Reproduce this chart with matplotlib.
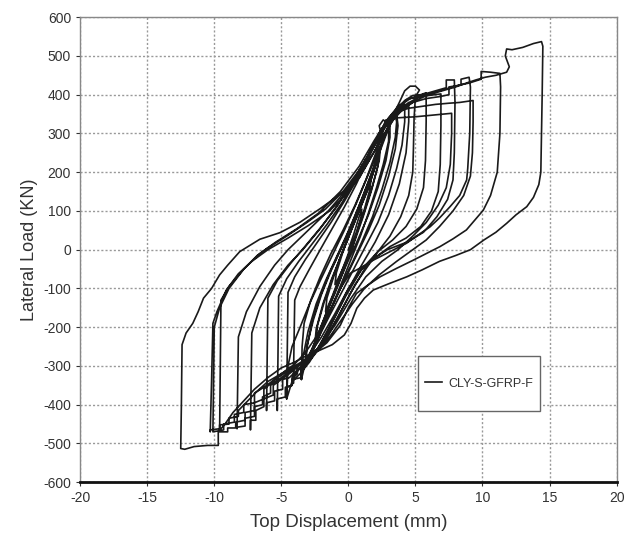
import matplotlib.pyplot as plt
from matplotlib.patches import Rectangle

# Hysteresis record, one list per loading cycle: (displacement mm, load kN)
cycle_01 = [(0, 0), (0.4, 40), (0.8, 85), (1.0, 105), (0.95, 85), (0.6, 40), (0.2, -5), (-0.3, -40),
            (-0.7, -70), (-1.0, -90)]
cycle_02 = [(-1.0, -90), (-0.9, -60), (-0.4, -5), (0.2, 50), (0.8, 105), (1.3, 150), (1.7, 185), (1.6, 155),
            (1.2, 105), (0.6, 45), (0, -10), (-0.6, -65), (-1.2, -120), (-1.7, -160)]
cycle_03 = [(-1.7, -160), (-1.6, -125), (-1.1, -70), (-0.5, -10), (0.2, 50), (0.9, 110), (1.5, 165), (2.0, 215),
            (2.3, 250), (2.2, 215), (1.7, 150), (1.1, 85), (0.5, 25), (-0.1, -30), (-0.8, -95), (-1.5, -155),
            (-2.0, -200), (-2.4, -235)]
cycle_04 = [(-2.4, -235), (-2.3, -195), (-1.8, -135), (-1.2, -75), (-0.6, -20), (0.1, 40), (0.8, 100), (1.5, 160),
            (2.1, 225), (2.4, 265), (2.3, 230), (1.8, 165), (1.2, 100), (0.6, 40), (0, -15), (-0.7, -80),
            (-1.4, -140), (-2.0, -195), (-2.5, -245)]
cycle_05 = [(-2.5, -245), (-2.4, -205), (-1.9, -140), (-1.3, -80), (-0.6, -20), (0.1, 40), (0.8, 100), (1.5, 160),
            (2.1, 225), (2.5, 275), (2.6, 300), (3.0, 305), (3.0, 280), (2.6, 220), (2.1, 160), (1.5, 95),
            (0.9, 35), (0.2, -25), (-0.5, -85), (-1.2, -145), (-1.9, -200), (-2.5, -250), (-2.9, -280),
            (-3.2, -285), (-3.2, -300)]
cycle_05b = [(-3.2, -300), (-3.1, -250), (-2.6, -180), (-2.0, -115), (-1.3, -55), (-0.5, 5), (0.3, 70),
             (1.1, 140), (1.8, 205), (2.4, 265), (2.9, 310), (3.1, 320), (3.1, 290), (2.8, 230), (2.2, 160),
             (1.5, 90), (0.7, 25), (-0.1, -35), (-0.9, -100), (-1.6, -160), (-2.3, -220), (-2.8, -265),
             (-3.2, -300)]
cycle_06 = [(-3.2, -300), (-3.1, -255), (-2.7, -185), (-2.1, -120), (-1.4, -60), (-0.6, 0), (0.2, 60), (1.0, 125),
            (1.7, 190), (2.3, 250), (2.7, 295), (3.1, 330), (3.5, 345), (3.6, 330), (3.5, 290), (3.1, 225),
            (2.5, 155), (1.8, 85), (1.0, 20), (0.2, -40), (-0.6, -100), (-1.4, -160), (-2.1, -215), (-2.7, -265),
            (-3.1, -290), (-3.5, -310), (-3.5, -335)]
cycle_06b = [(-3.5, -335), (-3.4, -280), (-3.0, -210), (-2.4, -140), (-1.7, -80), (-0.9, -20), (-0.1, 40),
             (0.7, 105), (1.5, 175), (2.2, 240), (2.8, 295), (3.2, 330), (3.6, 350), (3.7, 320), (3.5, 260),
             (3.0, 190), (2.3, 115), (1.5, 50), (0.6, -15), (-0.3, -80), (-1.2, -145), (-2.0, -205),
             (-2.7, -255), (-3.2, -290), (-3.5, -335)]
cycle_07 = [(-3.5, -335), (-3.45, -250), (-3.3, -190), (-2.8, -130), (-2.1, -70), (-1.3, -10), (-0.4, 50),
            (0.5, 115), (1.3, 180), (2.0, 245), (2.5, 290), (2.3, 320), (2.6, 335), (3.0, 325), (3.4, 350),
            (3.8, 365), (4.2, 375), (4.2, 330), (4.0, 270), (3.6, 210), (3.0, 140), (2.2, 70), (1.3, 10),
            (0.4, -50), (-0.5, -110), (-1.4, -170), (-2.2, -225), (-2.9, -270), (-3.3, -290), (-3.8, -300),
            (-3.8, -320), (-4.1, -330), (-4.1, -345)]
cycle_08 = [(-4.1, -345), (-4.05, -240), (-4.0, -130), (-3.6, -95), (-2.9, -50), (-2.1, 0), (-1.2, 55),
            (-0.3, 110), (0.6, 170), (1.4, 230), (2.1, 285), (2.7, 320), (3.3, 345), (3.8, 380), (4.2, 410),
            (4.6, 422), (5.0, 422), (5.3, 412), (5.0, 395), (4.9, 340), (4.85, 260), (4.8, 200), (4.5, 140),
            (3.9, 85), (3.1, 35), (2.2, -5), (1.2, -50), (0.2, -110), (-0.8, -175), (-1.7, -235), (-2.5, -270),
            (-3.0, -290), (-3.5, -300), (-3.5, -330), (-4.2, -335), (-4.2, -350), (-4.6, -355), (-4.6, -385)]
cycle_08b = [(-4.6, -385), (-4.5, -300), (-4.2, -250), (-3.6, -200), (-2.9, -140), (-2.1, -80), (-1.2, -15),
             (-0.3, 50), (0.6, 120), (1.5, 195), (2.3, 260), (3.0, 315), (3.6, 350), (4.3, 365), (4.5, 380),
             (4.5, 330), (4.3, 250), (3.8, 170), (3.0, 90), (2.0, 20), (0.9, -45), (-0.2, -115), (-1.2, -185),
             (-2.1, -245), (-2.9, -290), (-3.6, -320), (-4.2, -340), (-4.6, -385)]
cycle_09 = [(-4.6, -385), (-4.55, -250), (-4.5, -110), (-4.0, -70), (-3.2, -25), (-2.3, 20), (-1.3, 70),
            (-0.3, 125), (0.7, 185), (1.6, 245), (2.4, 300), (3.0, 335), (3.6, 360), (4.2, 385), (4.8, 398),
            (5.4, 400), (5.8, 405), (5.8, 330), (5.75, 230), (5.6, 160), (5.1, 105), (4.3, 60), (3.3, 25),
            (2.2, -5), (1.0, -50), (-0.2, -120), (-1.3, -195), (-2.3, -255), (-3.0, -285), (-3.7, -310),
            (-4.2, -330), (-4.2, -350), (-4.7, -355), (-4.7, -380), (-5.3, -385), (-5.3, -415)]
cycle_10 = [(-5.3, -415), (-5.25, -280), (-5.2, -120), (-4.6, -75), (-3.7, -30), (-2.7, 15), (-1.6, 65),
            (-0.5, 120), (0.5, 180), (1.5, 245), (2.3, 300), (3.0, 340), (3.7, 370), (4.4, 388), (5.2, 395),
            (6.0, 398), (6.9, 402), (6.9, 320), (6.85, 220), (6.7, 150), (6.2, 100), (5.4, 60), (4.3, 30),
            (3.1, 8), (1.8, -25), (0.5, -90), (-0.8, -175), (-2.0, -245), (-3.0, -285), (-3.8, -310),
            (-4.4, -330), (-4.9, -335), (-4.9, -360), (-5.5, -365), (-5.5, -390), (-6.1, -395), (-6.1, -415)]
cycle_11 = [(-6.1, -415), (-6.05, -280), (-6.0, -125), (-5.3, -80), (-4.3, -35), (-3.2, 10), (-2.0, 60),
            (-0.8, 115), (0.3, 175), (1.4, 240), (2.3, 300), (3.0, 340), (3.8, 370), (4.6, 390), (5.5, 400),
            (6.5, 410), (7.3, 418), (7.3, 438), (7.9, 438), (7.95, 380), (7.9, 250), (7.8, 180), (7.4, 130),
            (6.6, 85), (5.6, 45), (4.4, 20), (2.9, 0), (2.0, -20), (1.0, -50), (0, -100), (-1.0, -165),
            (-2.0, -225), (-2.9, -270), (-3.7, -300), (-4.4, -320), (-5.0, -335), (-5.6, -350), (-5.6, -375),
            (-6.3, -385), (-6.3, -405), (-6.9, -415), (-6.9, -440), (-7.3, -440), (-7.3, -465)]
cycle_12 = [(-7.3, -465), (-7.25, -330), (-7.2, -215), (-6.6, -150), (-5.6, -90), (-4.5, -40), (-3.4, 0),
            (-2.2, 50), (-0.9, 110), (0.4, 180), (1.5, 245), (2.4, 300), (2.8, 335), (3.5, 340), (5.0, 343),
            (6.5, 348), (7.7, 352), (7.7, 300), (7.6, 220), (7.3, 160), (6.7, 115), (5.8, 70), (4.8, 35),
            (3.7, 0), (2.5, -30), (1.3, -70), (0.2, -125), (-1.0, -195), (-2.3, -255), (-3.4, -290),
            (-4.4, -315), (-5.2, -335), (-5.8, -350), (-5.8, -370), (-6.4, -380), (-6.4, -400), (-7.0, -405),
            (-7.0, -430), (-7.7, -435), (-7.7, -455), (-8.3, -458), (-8.3, -462)]
cycle_13 = [(-8.3, -462), (-8.25, -340), (-8.2, -225), (-7.6, -160), (-6.6, -95), (-5.5, -40), (-4.5, 0),
            (-3.0, 50), (-1.5, 100), (0.0, 160), (1.3, 230), (2.3, 290), (3.0, 330), (3.8, 360), (4.8, 380),
            (5.8, 390), (6.8, 395), (7.5, 400), (7.5, 420), (8.4, 425), (8.4, 440), (9.0, 445), (9.1, 420),
            (9.05, 300), (8.9, 210), (8.82, 180), (8.3, 140), (7.58, 111), (6.8, 82), (6.09, 59), (5.2, 38),
            (4.35, 17), (3.1, -5), (1.86, -27), (1.0, -45), (0.13, -61), (-0.6, -100), (-1.4, -160),
            (-2.3, -220), (-3.2, -265), (-4.0, -295), (-4.8, -315), (-5.6, -340), (-6.3, -360), (-6.3, -385),
            (-7.0, -395), (-7.0, -415), (-7.7, -420), (-7.7, -440), (-8.4, -445), (-8.4, -460), (-9.0, -460),
            (-9.0, -470), (-9.6, -470)]
cycle_14 = [(-9.6, -470), (-9.55, -300), (-9.5, -130), (-8.9, -95), (-7.8, -50), (-6.6, -10), (-5.4, 20),
            (-3.8, 55), (-2.2, 95), (-0.6, 150), (0.8, 215), (1.9, 280), (2.8, 330), (3.5, 355), (4.5, 365),
            (5.5, 370), (6.5, 375), (7.5, 378), (8.3, 380), (9.3, 385), (9.3, 330), (9.25, 250), (9.1, 190),
            (8.6, 140), (7.8, 100), (6.8, 60), (5.8, 25), (4.8, 0), (3.6, -30), (2.3, -65), (1.2, -100),
            (0.3, -140), (-0.6, -185), (-1.6, -235), (-2.6, -270), (-3.6, -295), (-4.6, -315), (-5.5, -335),
            (-6.3, -355), (-7.0, -370), (-7.0, -395), (-7.8, -400), (-7.8, -420), (-8.5, -425), (-8.5, -445),
            (-9.3, -450), (-9.3, -465), (-10.1, -470)]
cycle_15 = [(-10.1, -470), (-10.05, -330), (-10.0, -200), (-9.6, -150), (-8.9, -100), (-7.8, -50),
            (-6.8, -15), (-6.0, 5), (-4.6, 35), (-3.1, 70), (-1.7, 105), (-0.4, 150), (0.8, 205), (1.9, 265),
            (2.7, 315), (3.5, 350), (4.3, 375), (5.3, 395), (6.3, 405), (7.3, 415), (8.3, 425), (9.0, 430),
            (9.9, 440), (9.9, 460), (10.6, 458), (11.3, 455), (11.35, 420), (11.3, 300), (11.1, 200),
            (10.6, 140), (10.06, 102), (8.8, 51), (7.8, 28), (6.83, 8), (5.8, -10), (4.84, -27), (3.6, -48),
            (2.36, -70), (1.3, -95), (0.6, -113), (0, -150), (-0.6, -195), (-1.6, -240), (-2.8, -275),
            (-4.0, -300), (-5.0, -320), (-6.0, -340), (-6.8, -365), (-7.5, -390), (-8.2, -415), (-8.2, -430),
            (-8.9, -435), (-8.9, -450), (-9.6, -452), (-9.6, -462), (-10.3, -465), (-10.3, -470)]
cycle_16 = [(-10.3, -470), (-10.2, -340), (-10.1, -190), (-9.8, -160), (-9.1, -104), (-8.2, -62), (-7.2, -30),
            (-6.0, 0), (-4.5, 30), (-3.0, 62), (-1.4, 100), (0.0, 150), (1.2, 210), (2.2, 270), (3.1, 325),
            (4.0, 360), (5.0, 385), (6.0, 400), (7.0, 410), (8.0, 420), (8.8, 430), (9.5, 438), (10.2, 445),
            (11.0, 450), (11.8, 458), (12.0, 472), (11.7, 500), (11.8, 518), (12.2, 516), (13.0, 522),
            (13.8, 532), (14.4, 537), (14.5, 525), (14.45, 400), (14.4, 300), (14.35, 200), (14.2, 168),
            (13.8, 135), (13.3, 111), (12.5, 90), (11.8, 68), (11.0, 45), (10.1, 25), (9.1, 0), (8.0, -15),
            (6.8, -30), (5.5, -52), (4.35, -70), (3.0, -88), (1.86, -104), (1.2, -125), (0.63, -151),
            (0.2, -190), (-0.3, -220), (-1.2, -245), (-2.3, -262), (-3.2, -275), (-4.0, -290), (-5.0, -305),
            (-6.0, -330), (-7.0, -360), (-7.8, -390), (-8.6, -420), (-9.2, -450), (-9.7, -470), (-9.7, -505),
            (-10.5, -505), (-11.5, -508), (-12.2, -515), (-12.5, -513)]
cycle_17 = [(-12.5, -513), (-12.45, -400), (-12.4, -245), (-12.1, -215), (-11.6, -190), (-11.2, -160),
            (-10.8, -125), (-10.2, -100), (-9.6, -65), (-9.0, -40), (-8.1, -5), (-6.6, 27), (-5.1, 44),
            (-3.6, 71), (-2.1, 106), (-0.65, 142), (0.83, 186), (2.0, 257), (2.6, 310), (2.9, 330)]

cycles = [cycle_01, cycle_02, cycle_03, cycle_04, cycle_05, cycle_05b, cycle_06, cycle_06b, cycle_07,
          cycle_08, cycle_08b, cycle_09, cycle_10, cycle_11, cycle_12, cycle_13, cycle_14, cycle_15,
          cycle_16, cycle_17]

disp = []
load = []
for c in cycles:
    for x, y in c:
        disp.append(x)
        load.append(y)

plt.rcParams['font.family'] = ['Liberation Sans', 'DejaVu Sans']
plt.rcParams['axes.unicode_minus'] = False

fig = plt.figure(figsize=(6.26, 5.37), dpi=100)
ax = fig.add_axes([0.128, 0.102, 0.857, 0.866])

ax.plot(disp, load, color='#1a1a1a', lw=1.2, label='CLY-S-GFRP-F', zorder=3)

ax.set_xlim(-20, 20)
ax.set_ylim(-600, 600)
ax.set_xticks(range(-20, 21, 5))
ax.set_yticks(range(-600, 601, 100))
ax.grid(True, color='#999999', linestyle=(0, (1.5, 1.5)), lw=1.0)
ax.tick_params(labelsize=10, colors='#333333', length=3, width=0.8)

for side in ['left', 'top', 'right']:
    ax.spines[side].set_color('#888888')
    ax.spines[side].set_linewidth(1.0)
ax.spines['bottom'].set_color('#111111')
ax.spines['bottom'].set_linewidth(2.0)

ax.set_xlabel('Top Displacement (mm)', fontsize=13.5, color='#333333', labelpad=6)
ax.set_ylabel('Lateral Load (KN)', fontsize=13, color='#333333', labelpad=4)

# legend box
box = Rectangle((0.63, 0.153), 0.227, 0.118, transform=ax.transAxes, facecolor='white',
                edgecolor='#666666', lw=1.0, zorder=4)
ax.add_patch(box)
leg = ax.legend(loc='center', bbox_to_anchor=(0.7435, 0.212), frameon=False, fontsize=9,
                handlelength=1.4, handletextpad=0.5)
leg.set_zorder(5)
for t in leg.get_texts():
    t.set_color('#333333')

plt.savefig('out.png', dpi=100)
